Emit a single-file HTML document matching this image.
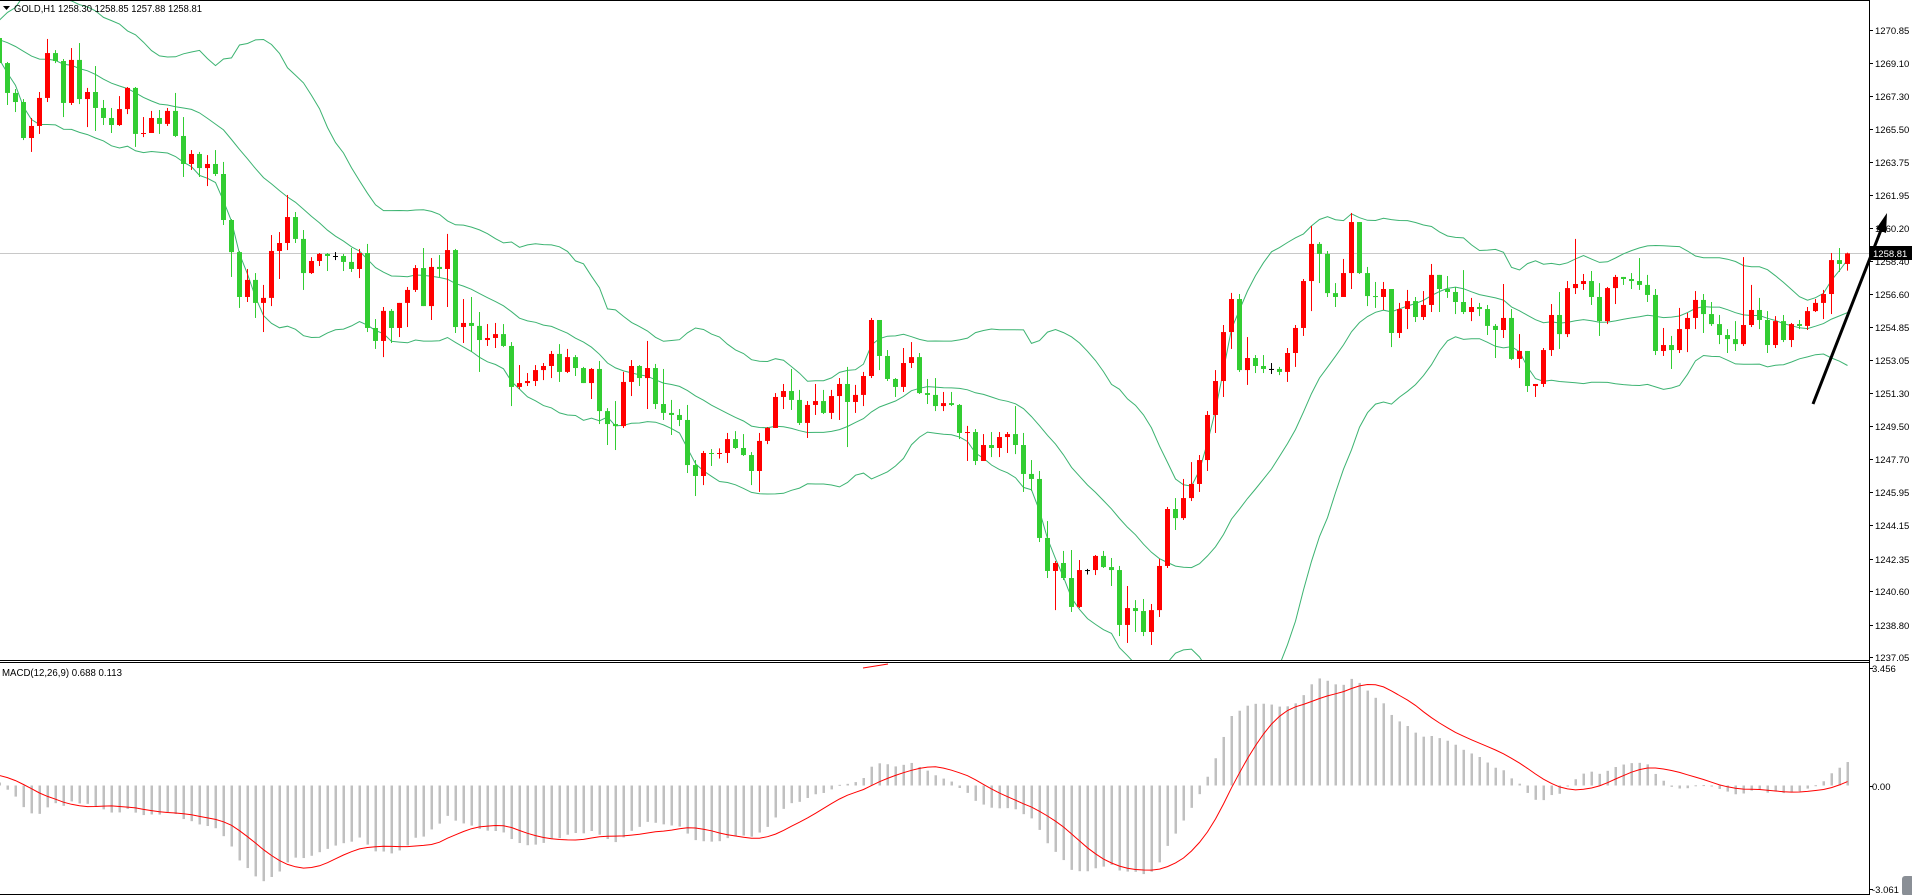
<!DOCTYPE html>
<html><head><meta charset="utf-8"><title>GOLD H1</title>
<style>
html,body{margin:0;padding:0;background:#fff;}
svg{display:block;}
text{font-family:"Liberation Sans","DejaVu Sans",sans-serif;}
</style></head>
<body>
<svg id="chart" width="1912" height="895" viewBox="0 0 1912 895" xmlns="http://www.w3.org/2000/svg">
<defs>
<clipPath id="mainClip"><rect x="0" y="1" width="1869" height="659"/></clipPath>
<clipPath id="macdClip"><rect x="0" y="663" width="1869" height="231"/></clipPath>
</defs>
<rect x="0" y="0" width="1912" height="895" fill="#fff"/>
<g id="mainMarks" clip-path="url(#mainClip)"></g>
<g id="macdMarks" clip-path="url(#macdClip)"></g>
<g id="axes"></g>
<line x1="0" y1="0.5" x2="1870" y2="0.5" stroke="#000"/>
<line x1="0" y1="660.5" x2="1870" y2="660.5" stroke="#000"/>
<line x1="0" y1="662.5" x2="1870" y2="662.5" stroke="#000"/>
<line x1="0" y1="894.5" x2="1870" y2="894.5" stroke="#000"/>
<line x1="1869.5" y1="0" x2="1869.5" y2="895" stroke="#000"/>
<polygon points="3,6 10,6 6.5,10" fill="#000"/>
<text x="14" y="12" font-size="10" textLength="188" lengthAdjust="spacingAndGlyphs" fill="#000">GOLD,H1  1258.30 1258.85 1257.88 1258.81</text>
<text x="2" y="676" font-size="10" textLength="120" lengthAdjust="spacingAndGlyphs" fill="#000">MACD(12,26,9) 0.688 0.113</text>
<line x1="863" y1="668" x2="888" y2="664" stroke="#ff0000" stroke-width="1"/>
<line x1="1813" y1="404" x2="1881" y2="230" stroke="#000" stroke-width="3"/>
<polygon points="1887,213 1876,229 1886,233" fill="#000"/>
<rect x="1902" y="876" width="12" height="20" rx="3" fill="#8a8f96"/>
</svg>
<script>
const historyCloses = [1268.4,1268.9,1268.2,1268.8,1269.5,1268.9,1269.7,1270.3,1269.6,1270.4,1269.8,1270.6,1271.0,1270.2,1270.9,1270.4,1269.7,1270.5,1271.1,1270.2,1270.8,1269.9,1270.6,1271.2,1270.1,1269.6,1270.5,1269.8,1270.3,1270.0];
const firstOpen = 1270.42;
const closes = [
1269.07,1267.46,1266.97,1265.03,1265.68,1267.19,1269.61,1269.18,1266.92,1269.24,
1267.13,1267.51,1266.65,1266.11,1265.73,1266.59,1267.73,1265.25,1265.30,1266.11,
1265.79,1266.49,1265.14,1263.63,1264.17,1263.41,1263.63,1263.09,1260.61,1258.88,
1256.46,1257.38,1256.14,1256.41,1258.94,1259.37,1260.77,1259.59,1257.75,1258.40,
1258.78,1258.67,1258.67,1258.35,1257.97,1258.83,1254.79,1254.09,1255.71,1254.79,
1256.14,1256.84,1258.02,1255.97,1258.08,1257.97,1258.99,1254.84,1255.06,1254.90,
1254.14,1254.25,1254.46,1253.82,1251.61,1251.82,1251.93,1252.52,1252.74,1253.39,
1252.42,1253.22,1252.63,1251.82,1252.58,1250.31,1249.61,1249.50,1251.88,1252.74,
1252.09,1252.63,1250.69,1250.21,1250.10,1249.83,1247.40,1246.81,1248.05,1248.00,
1248.05,1248.80,1248.32,1247.94,1247.08,1248.70,1249.40,1251.07,1251.39,1250.91,
1249.67,1250.64,1250.85,1250.21,1251.12,1251.77,1250.80,1251.18,1252.20,1255.22,
1253.28,1252.04,1251.61,1252.90,1253.22,1251.28,1251.18,1250.58,1250.74,1250.64,
1249.13,1249.18,1247.62,1248.48,1248.32,1248.91,1249.07,1248.48,1246.92,1246.65,
1243.47,1241.69,1242.12,1241.31,1239.75,1241.74,1241.74,1242.50,1241.90,1241.74,
1238.78,1239.69,1239.53,1238.40,1239.58,1241.96,1245.03,1244.54,1245.62,1246.38,
1247.67,1250.10,1251.93,1254.57,1256.35,1252.52,1253.17,1252.74,1252.58,1252.58,
1252.42,1253.44,1254.79,1257.32,1259.32,1258.78,1256.67,1256.46,1257.75,1260.50,
1257.75,1256.51,1256.46,1256.89,1254.52,1255.81,1256.24,1255.38,1256.03,1257.65,
1256.89,1256.73,1256.19,1255.65,1255.92,1255.81,1254.90,1254.68,1255.33,1253.12,
1253.55,1251.66,1251.77,1253.60,1255.49,1254.46,1256.94,1257.16,1257.32,1256.46,
1255.16,1256.94,1257.54,1257.43,1257.32,1257.11,1256.57,1253.55,1253.87,1253.60,
1254.73,1255.33,1256.30,1255.54,1255.00,1254.41,1254.19,1253.92,1254.95,1255.76,
1255.22,1253.87,1255.16,1254.14,1255.00,1254.90,1255.70,1256.14,1256.62,1258.45,
1258.24,1258.81];
const highs = [
1270.58,1269.13,1267.67,1267.13,1266.11,1267.51,1270.37,1269.77,1269.29,1269.88,
1270.15,1267.73,1268.91,1267.08,1266.65,1267.29,1267.78,1267.78,1266.16,1266.49,
1266.54,1266.65,1267.46,1266.16,1264.38,1264.28,1264.11,1264.38,1263.74,1260.66,
1258.94,1257.97,1257.75,1257.11,1259.80,1259.96,1261.96,1261.04,1260.07,1258.61,
1258.83,1258.83,1258.88,1258.78,1259.10,1259.05,1259.32,1255.27,1255.92,1255.81,
1256.14,1257.00,1258.18,1259.10,1258.56,1258.72,1259.86,1259.05,1256.35,1256.46,
1255.65,1255.00,1255.06,1255.00,1254.03,1252.79,1252.36,1252.79,1252.90,1253.55,
1253.92,1253.66,1253.33,1252.69,1252.63,1253.01,1250.47,1250.85,1252.42,1253.06,
1252.79,1254.09,1252.85,1252.58,1250.91,1250.42,1250.64,1247.67,1248.16,1248.26,
1248.30,1249.13,1249.23,1249.07,1248.10,1249.13,1249.45,1251.28,1251.77,1252.58,
1251.45,1250.85,1251.77,1251.45,1251.45,1252.09,1252.69,1251.72,1252.42,1255.33,
1255.20,1253.60,1252.09,1253.71,1254.03,1253.44,1252.04,1252.09,1251.34,1251.34,
1250.69,1249.51,1249.34,1249.07,1249.18,1249.18,1249.18,1250.58,1249.13,1247.67,
1247.08,1244.38,1242.23,1242.77,1242.82,1242.28,1241.80,1242.55,1242.77,1242.39,
1241.96,1240.88,1240.12,1240.18,1239.91,1242.34,1245.14,1245.62,1246.65,1247.56,
1247.94,1250.31,1252.52,1254.95,1256.68,1256.62,1254.30,1253.33,1253.33,1252.90,
1252.69,1253.71,1254.95,1257.43,1260.29,1259.42,1258.94,1257.21,1258.51,1260.99,
1260.50,1258.08,1257.27,1257.27,1256.89,1256.14,1256.84,1256.46,1256.78,1258.24,
1257.16,1257.59,1257.00,1257.91,1256.41,1256.14,1256.03,1255.00,1257.16,1255.81,
1254.46,1253.55,1251.77,1253.71,1256.08,1256.73,1257.32,1259.59,1257.70,1257.86,
1257.21,1257.00,1257.65,1257.43,1257.75,1258.56,1257.65,1256.89,1254.79,1254.36,
1255.87,1255.60,1256.78,1256.62,1256.19,1255.49,1254.73,1255.16,1258.61,1257.11,
1256.41,1255.70,1255.43,1255.49,1255.06,1255.22,1255.92,1256.35,1256.84,1258.83,
1259.10,1258.85];
const lows = [
1268.97,1266.81,1266.43,1264.92,1264.28,1265.25,1266.97,1269.07,1266.16,1266.81,
1266.86,1265.62,1265.41,1265.73,1265.30,1265.68,1266.32,1264.55,1265.08,1265.30,
1265.25,1265.68,1265.08,1262.93,1263.31,1262.93,1262.44,1262.98,1260.34,1257.54,
1255.87,1256.19,1255.33,1254.57,1255.97,1257.43,1258.99,1259.37,1256.84,1257.70,
1258.13,1257.86,1258.45,1257.86,1257.81,1257.48,1254.57,1253.66,1253.22,1253.98,
1254.30,1254.84,1256.73,1255.97,1255.22,1257.54,1255.92,1254.52,1253.98,1253.49,
1252.42,1253.82,1253.71,1253.76,1250.58,1251.50,1251.66,1251.66,1251.98,1252.09,
1251.88,1252.36,1252.20,1251.82,1250.96,1249.61,1248.48,1248.21,1249.40,1251.12,
1251.66,1250.42,1250.42,1249.83,1249.02,1249.50,1246.97,1245.73,1246.32,1247.35,
1247.75,1247.51,1248.26,1247.89,1246.32,1245.95,1248.53,1249.40,1250.42,1250.37,
1249.56,1248.86,1250.10,1250.15,1249.88,1249.83,1248.37,1250.21,1250.58,1252.09,
1252.52,1251.93,1251.07,1251.34,1252.63,1251.23,1250.69,1250.31,1250.31,1250.58,
1248.80,1247.62,1247.40,1247.62,1247.83,1247.83,1248.05,1247.99,1245.95,1246.00,
1243.25,1241.31,1239.58,1241.20,1239.48,1239.69,1241.50,1241.47,1241.85,1240.88,
1238.18,1237.81,1238.40,1238.18,1237.70,1239.21,1241.85,1243.90,1244.44,1245.46,
1245.95,1247.08,1249.13,1251.07,1253.66,1252.42,1251.72,1252.36,1252.36,1252.31,
1252.25,1251.88,1252.69,1254.36,1255.70,1257.21,1256.46,1255.92,1256.46,1256.89,
1257.70,1255.97,1255.87,1255.76,1253.76,1254.25,1254.73,1255.11,1255.22,1255.65,
1255.65,1256.41,1255.54,1255.54,1255.16,1255.43,1254.41,1253.17,1254.25,1253.06,
1252.63,1251.34,1251.07,1251.61,1253.28,1253.66,1254.30,1256.62,1256.84,1256.03,
1254.36,1255.00,1256.08,1257.11,1256.89,1256.84,1256.19,1253.33,1253.28,1252.58,
1253.44,1253.49,1254.73,1254.52,1254.90,1253.92,1253.44,1253.55,1253.82,1254.84,
1254.73,1253.44,1253.71,1254.03,1253.76,1254.73,1254.68,1255.65,1255.27,1255.54,
1257.81,1257.88];
const priceTicks = [1270.85,1269.10,1267.30,1265.50,1263.75,1261.95,1260.20,1258.40,1256.60,1254.85,1253.05,1251.30,1249.50,1247.70,1245.95,1244.15,1242.35,1240.60,1238.80,1237.05];
const macdTicks = [3.456,0,-3.061];
const macdTickLabels = ["3.456","0.00","-3.061"];

const NS = "http://www.w3.org/2000/svg";
function xOf(i){ return 8*i - 0.5; }
function yP(p){ return (1272.47 - p) * 18.55; }
function yM(v){ return 785.5 - v * 33.9; }
function mk(tag, attrs, parent){
  const el = document.createElementNS(NS, tag);
  for (const k in attrs) el.setAttribute(k, attrs[k]);
  parent.appendChild(el);
  return el;
}
const main = document.getElementById('mainMarks');
const macdG = document.getElementById('macdMarks');
const axes = document.getElementById('axes');

// Indicators
const all = historyCloses.concat(closes);
const H0 = historyCloses.length;
const mid = [], up = [], lo = [];
for (let i = 0; i < closes.length; i++) {
  const end = H0 + i;
  let s = 0; for (let k = end - 19; k <= end; k++) s += all[k];
  const m = s / 20;
  let v = 0; for (let k = end - 19; k <= end; k++) v += (all[k] - m) * (all[k] - m);
  const sd = Math.sqrt(v / 20);
  mid.push(m); up.push(m + 2 * sd); lo.push(m - 2 * sd);
}
function ema(arr, n){ const a = 2/(n+1); const out=[arr[0]]; for(let i=1;i<arr.length;i++) out.push(a*arr[i]+(1-a)*out[i-1]); return out; }
const e12 = ema(all, 12), e26 = ema(all, 26);
const macdAll = all.map((_, i) => e12[i] - e26[i]);
const sigAll = macdAll.map((_, i) => { const st = Math.max(0, i - 8); let s = 0; for (let k = st; k <= i; k++) s += macdAll[k]; return s / (i - st + 1); });

// Current price line
const lastY = yP(closes[closes.length - 1]);
const cpl = mk('line', {x1:0, y1:Math.round(lastY)+0.5, x2:1869, y2:Math.round(lastY)+0.5, stroke:'#c8c8c8'}, main);



// Bands
[[up,'bollinger-upper'],[mid,'bollinger-middle'],[lo,'bollinger-lower']].forEach(([arr, name]) => {
  const pts = arr.map((v, i) => xOf(i).toFixed(1) + ',' + yP(v).toFixed(1)).join(' ');
  const pl = mk('polyline', {points:pts, fill:'none', stroke:'#3cb371', 'stroke-width':1}, main);
  
  
});

// Candles
for (let i = 0; i < closes.length; i++) {
  const o = i === 0 ? firstOpen : closes[i-1];
  const c = closes[i];
  const h = Math.max(highs[i], o, c), l = Math.min(lows[i], o, c);
  const col = c > o ? '#ff0000' : (c < o ? '#32cd32' : '#000000');
  const g = mk('g', {}, main);
  
  
  mk('rect', {x:8*i-1, y:yP(h), width:1, height:Math.max(1, yP(l)-yP(h)), fill:col}, g);
  const top = yP(Math.max(o, c)), bot = yP(Math.min(o, c));
  mk('rect', {x:8*i-3, y:top, width:5, height:Math.max(1, bot-top), fill:col}, g);
}

// MACD histogram + signal
const z = yM(0);
for (let i = 0; i < closes.length; i++) {
  const v = macdAll[H0 + i];
  const y = yM(v);
  const b = mk('rect', {x:8*i-1.5, y:Math.min(y, z), width:2.5, height:Math.max(1, Math.abs(y - z)), fill:'#c0c0c0'}, macdG);
  
  
}
const sp = closes.map((_, i) => xOf(i).toFixed(1) + ',' + yM(sigAll[H0 + i]).toFixed(1)).join(' ');
const sl = mk('polyline', {points:sp, fill:'none', stroke:'#ff0000', 'stroke-width':1}, macdG);



// Axes
priceTicks.forEach(p => {
  const y = Math.round(yP(p)) + 0.5;
  mk('line', {x1:1869, y1:y, x2:1873, y2:y, stroke:'#000'}, axes);
  const t = mk('text', {x:1875, y:y+3.5, 'font-size':9.5, fill:'#000'}, axes);
  t.textContent = p.toFixed(2);
  
  
});
macdTicks.forEach((v, k) => {
  const y = Math.round(yM(v)) + 0.5;
  mk('line', {x1:1869, y1:y, x2:1873, y2:y, stroke:'#000'}, axes);
  const t = mk('text', {x:1872, y:y+3.5, 'font-size':9.5, fill:'#000'}, axes);
  t.textContent = macdTickLabels[k];
  
  
});
const box = mk('rect', {x:1870, y:Math.round(lastY)-7, width:42, height:14, fill:'#000'}, axes);


const bt = mk('text', {x:1873, y:Math.round(lastY)+4, 'font-size':9.5, fill:'#fff'}, axes);
bt.textContent = closes[closes.length - 1].toFixed(2);


</script>
</body></html>
